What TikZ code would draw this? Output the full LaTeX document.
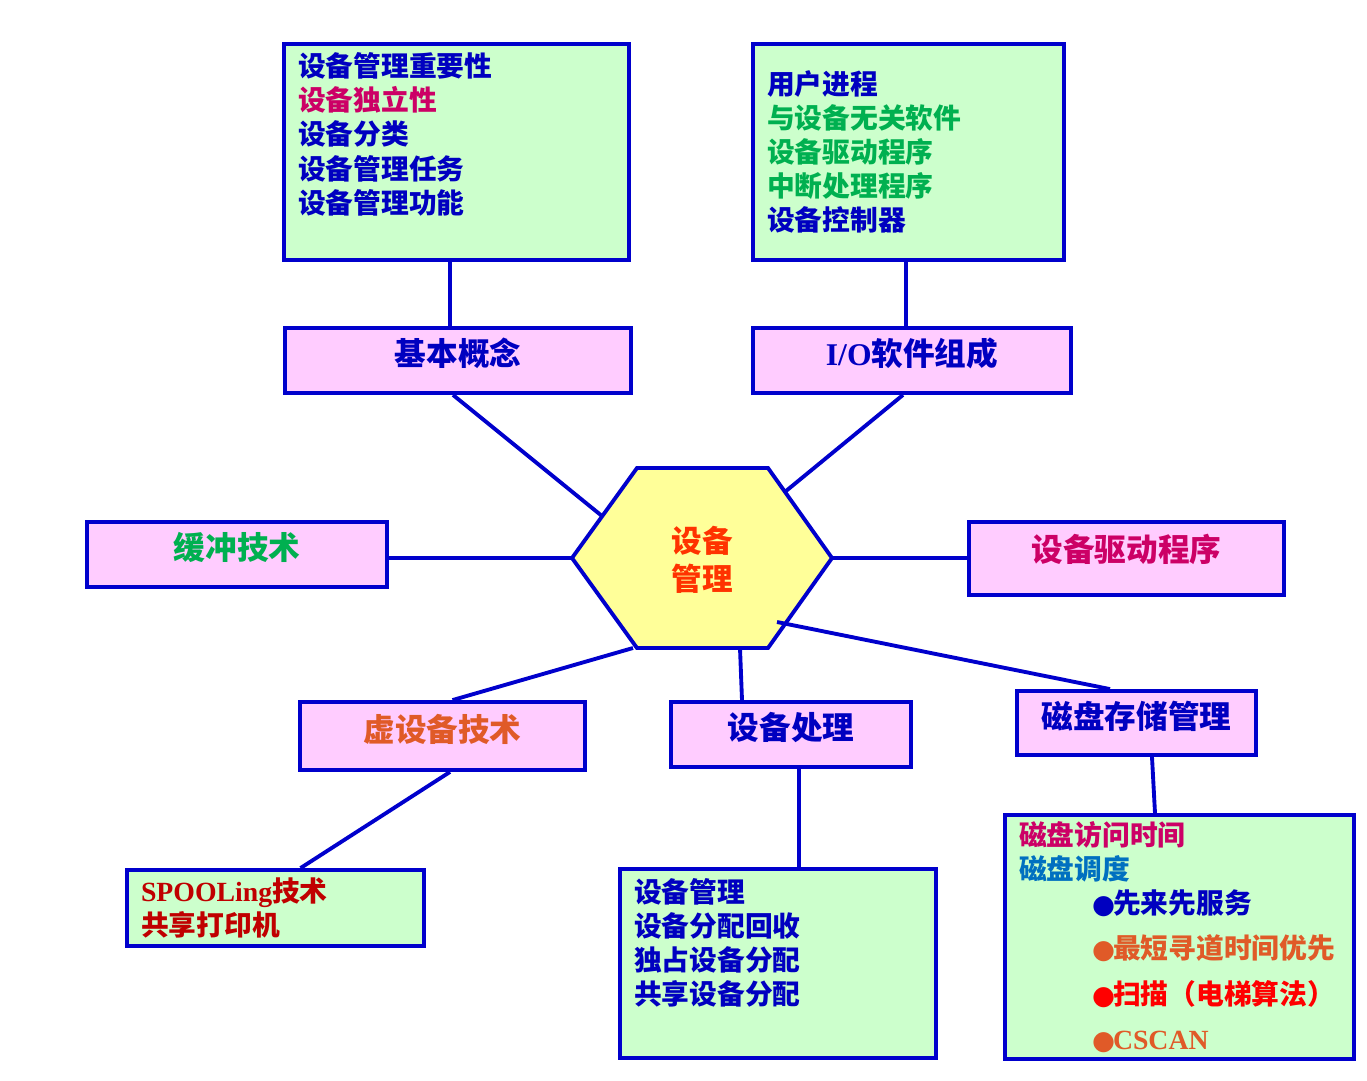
\documentclass[tikz,border=0pt]{standalone}
\usepackage{fontspec}
\setmainfont{Noto Sans CJK SC}
\newfontfamily\latin{Liberation Serif}
\newfontfamily\sym{DejaVu Sans}
\definecolor{cborder}{RGB}{0,0,204}
\definecolor{cgreenfill}{RGB}{204,255,204}
\definecolor{cpink}{RGB}{255,204,255}
\definecolor{cyellow}{RGB}{255,255,153}
\definecolor{tblue}{RGB}{0,0,192}
\definecolor{tmag}{RGB}{204,0,102}
\definecolor{tgreen}{RGB}{0,176,80}
\definecolor{torange}{RGB}{224,90,40}
\definecolor{thub}{RGB}{255,51,0}
\definecolor{tred}{RGB}{192,0,0}
\definecolor{tsky}{RGB}{0,112,192}
\definecolor{tbright}{RGB}{255,0,0}
\tikzset{
  link/.style={draw=cborder,line width=2.2pt},
  titlebox/.style={draw=cborder,line width=2.2pt,fill=cpink,inner sep=0pt,
    text height=15pt,text depth=9pt,font=\fontsize{18pt}{22pt}\selectfont\bfseries},
  listbox/.style={draw=cborder,line width=2.2pt,fill=cgreenfill,inner xsep=0.28cm,
    inner ysep=0pt,font=\fontsize{15.8pt}{19.4pt}\selectfont\bfseries},
}
\newcommand\diskitem[2]{\hspace*{1.46cm}\makebox[0.42cm][l]{\textcolor{#1}{\sym\fontsize{15pt}{19pt}\selectfont ●}}\textcolor{#1}{#2}}

\begin{document}
\begin{tikzpicture}[x=0.02cm,y=-0.02cm]
  \useasboundingbox (0,0) rectangle (1367,1080);
  % hexagon in the middle
  \draw[link,fill=cyellow] (637,468) -- (768,468) -- (832,558) -- (768,648)
    -- (637,648) -- (572,558) -- cycle;
  \node[text=thub,align=center,font=\fontsize{17.4pt}{21.6pt}\selectfont\bfseries] (hub) at (702,560) {设备\\管理};
  \coordinate (hw) at (572,558);
  \coordinate (he) at (832,558);
  \coordinate (hnw) at (602,516);
  \coordinate (hne) at (786,491);
  \coordinate (hsw) at (633,648);
  \coordinate (hs) at (740,648);
  \coordinate (hse) at (777,622);

  % title boxes
  \node[titlebox,minimum width=6.92cm,minimum height=1.3cm,text=tblue] (basic) at (458,360.5) {基本概念};
  \node[titlebox,minimum width=6.36cm,minimum height=1.3cm,text=tblue] (iosoft) at (912,360.5) {{\latin I/O}软件组成};
  \node[titlebox,minimum width=6cm,minimum height=1.3cm,text=tgreen] (buffer) at (237,554.5) {缓冲技术};
  \node[titlebox,minimum width=6.3cm,minimum height=1.46cm,text=tmag,text depth=12pt] (driver) at (1126.5,558.5) {设备驱动程序};
  \node[titlebox,minimum width=5.7cm,minimum height=1.36cm,text=torange] (virt) at (442.5,736) {虚设备技术};
  \node[titlebox,minimum width=4.8cm,minimum height=1.3cm,text=tblue] (handle) at (791,734.5) {设备处理};
  \node[titlebox,minimum width=4.78cm,minimum height=1.28cm,text=tblue] (disk) at (1136.5,723) {磁盘存储管理};

  % list boxes
  \node[listbox,text=tblue] (basiclist) at (456.5,152) {\parbox[c][4.32cm][t]{6.34cm}{\vspace{5pt}%
    设备管理重要性\\\textcolor{tmag}{设备独立性}\\设备分类\\设备管理任务\\设备管理功能}};
  \node[listbox,text=tgreen] (iolist) at (908.5,152) {\parbox[c][4.32cm][c]{5.66cm}{%
    \textcolor{tblue}{用户进程}\\与设备无关软件\\设备驱动程序\\中断处理程序\\\textcolor{tblue}{设备控制器}}};
  \node[listbox,text=tred] (spoolbox) at (275.5,908) {\parbox[c][1.52cm][c]{5.38cm}{%
    {\latin SPOOLing}技术\\共享打印机}};
  \node[listbox,text=tblue] (alloclist) at (778,963.5) {\parbox[c][3.78cm][t]{5.76cm}{\vspace{5.5pt}%
    设备管理\\设备分配回收\\独占设备分配\\共享设备分配}};
  \node[listbox,text=tblue] (disklist) at (1179.5,937) {\parbox[c][4.88cm][c]{6.42cm}{%
    \textcolor{tmag}{磁盘访问时间}\\\textcolor{tsky}{磁盘调度}\\
    \diskitem{tblue}{先来先服务}\\[6.5pt]
    \diskitem{torange}{最短寻道时间优先}\\[6.5pt]
    \diskitem{tbright}{扫描（电梯算法）}\\[6.5pt]
    \diskitem{torange}{{\latin CSCAN}}}};

  % connectors
  \draw[link] ([xshift=-.13cm]basiclist.south) -- ([xshift=-.13cm]basiclist.south |- basic.north);
  \draw[link] ([xshift=-.05cm]iolist.south) -- ([xshift=-.05cm]iolist.south |- iosoft.north);
  \draw[link] ([xshift=-.1cm]basic.south) -- (hnw);
  \draw[link] ([xshift=-.18cm]iosoft.south) -- (hne);
  \draw[link] (hw -| buffer.east) -- (hw);
  \draw[link] (he) -- (he -| driver.west);
  \draw[link] (hsw) -- ([xshift=.2cm]virt.north);
  \draw[link] (hs) -- ([xshift=.04cm]hs |- handle.north);
  \draw[link] (hse) -- ([xshift=-.53cm]disk.north);
  \draw[link] ([xshift=.15cm]virt.south) -- ([xshift=.5cm]spoolbox.north);
  \draw[link] ([xshift=.16cm]handle.south) -- ([xshift=.16cm]handle.south |- alloclist.north);
  \draw[link] ([xshift=.31cm]disk.south) -- ([xshift=-.49cm]disklist.north);
\end{tikzpicture}
\end{document}
